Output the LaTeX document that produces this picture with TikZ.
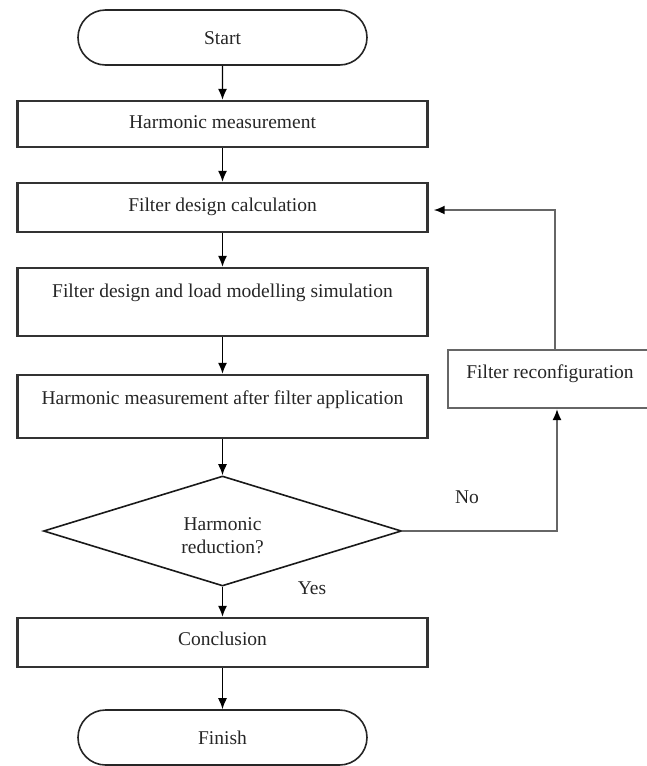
\documentclass[tikz,border=0pt]{standalone}
\usepackage{fontspec}
\setmainfont{Liberation Serif}
\usetikzlibrary{shapes.geometric,shapes.misc,arrows.meta}
\begin{document}
\begin{tikzpicture}[x=1pt,y=-1pt,
  every node/.style={font=\fontsize{19.5}{23}\selectfont, text=black!85},
  term/.style={draw=black!85, line width=1.6pt, rounded rectangle, minimum width=289pt, minimum height=55pt, inner sep=0pt, text height=13pt, text depth=0pt},
  proc/.style={draw=black!80, line width=2.4pt, rectangle, minimum width=410pt, inner sep=0pt, text height=13pt},
  recbox/.style={draw=black!60, line width=2pt, rectangle, minimum width=204pt, minimum height=58pt, inner sep=0pt, text height=13pt, text depth=14pt},
  decision/.style={draw=black!90, line width=1.6pt, diamond, minimum width=358pt, minimum height=110pt, inner sep=0pt},
  arr/.style={draw=black, line width=1.3pt, -{Latex[length=11pt,width=9pt]}},
  fb/.style={draw=black!60, line width=1.8pt},
  fbarr/.style={draw=black!60, line width=1.8pt, -{Latex[length=11pt,width=9pt,color=black]}},
  lbl/.style={inner sep=0pt}
]
\useasboundingbox (0,0) rectangle (646,766);

\node[term] (start) at (222.5,37.5) {Start};
\node[proc, minimum height=46pt, text depth=4pt] (harm) at (222.5,124) {Harmonic measurement};
\node[proc, minimum height=49pt, text depth=5pt] (calc) at (222.5,207.5) {Filter design calculation};
\node[proc, minimum height=68pt, text depth=22pt] (design) at (222.5,302) {Filter design and load modelling simulation};
\node[proc, minimum height=63pt, text depth=17pt] (after) at (222.5,406.5) {Harmonic measurement after filter application};
\node[decision, label={[yshift=-4.5pt, align=center, font=\fontsize{19.5}{23}\selectfont, text=black!85]center:Harmonic\\reduction?}] (dec) at (222.5,531) {};
\node[proc, minimum height=49pt, text depth=7pt] (concl) at (222.5,642.5) {Conclusion};
\node[term] (finish) at (222.5,737.5) {Finish};
\node[recbox] (reconf) at (550,379) {Filter reconfiguration};

\node[lbl] (no) at (467,497) {No};
\node[lbl] (yes) at (312,588) {Yes};

\draw[arr] (start) -- (harm);
\draw[arr] (harm) -- (calc);
\draw[arr] (calc) -- (design);
\draw[arr] (design) -- (after);
\draw[arr] (after) -- (dec);
\draw[arr] (dec) -- (concl);
\draw[arr] (concl) -- (finish);

\coordinate (c1) at (557,531);
\coordinate (c2) at (555,210);
\draw[fbarr] (dec.east) -- (c1) -- (c1 |- reconf.south);
\draw[fbarr, shorten >=5pt] (c2 |- reconf.north) -- (c2) -- (c2 -| calc.east);
\end{tikzpicture}
\end{document}
